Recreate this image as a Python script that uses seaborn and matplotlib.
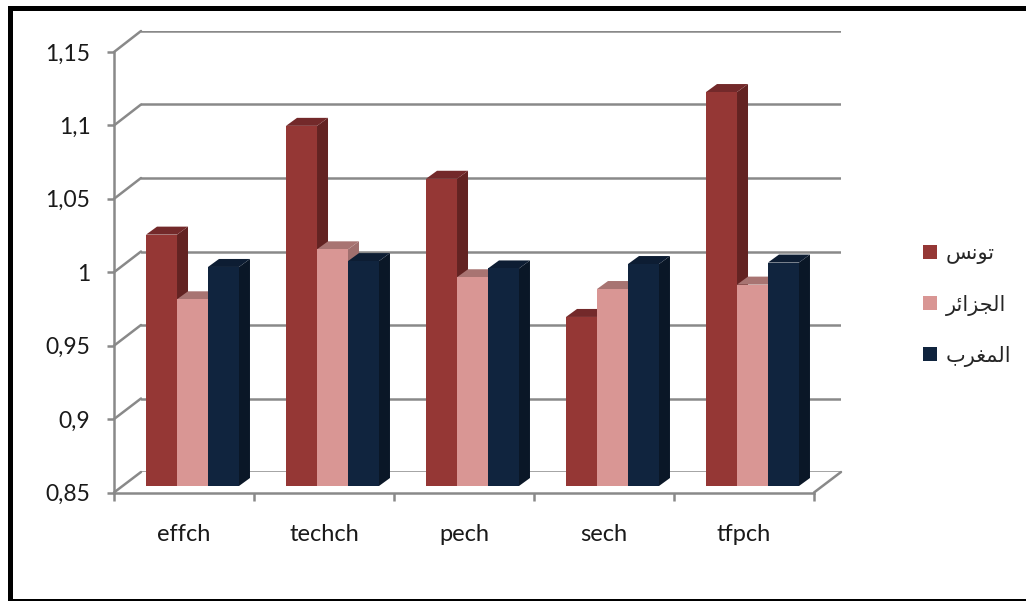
import matplotlib
matplotlib.use("Agg")
import matplotlib.pyplot as plt
from matplotlib.colors import to_hex
from matplotlib.lines import Line2D
from matplotlib.patches import Patch, Polygon, Rectangle
import pandas as pd
import seaborn as sns

# Malmquist index components per country
indices = ["effch", "techch", "pech", "sech", "tfpch"]
countries = ["تونس", "الجزائر", "المغرب"]
tunisia = [1.021, 1.095, 1.059, 0.965, 1.118]
algeria = [0.977, 1.011, 0.992, 0.984, 0.987]
morocco = [0.999, 1.003, 0.998, 1.001, 1.002]
y_ticks = [0.85, 0.9, 0.95, 1.0, 1.05, 1.1, 1.15]
y_tick_labels = ["0,85", "0,9", "0,95", "1", "1,05", "1,1", "1,15"]

# matplotlib has no Arabic shaping, so the legend text uses the joined
# presentation forms written in visual (left-to-right) order
legend_text = {
    "تونس": "\uFEB2\uFEE7\uFEEE\uFE97",
    "الجزائر": "\uFEAE\uFE8B\uFE8D\uFEB0\uFEA0\uFEDF\uFE8D",
    "المغرب": "\uFE8F\uFEAE\uFED0\uFEE4\uFEDF\uFE8D",
}

front_colors = {"تونس": "#953735", "الجزائر": "#D99694", "المغرب": "#10243E"}
side_colors = {"تونس": "#632322", "الجزائر": "#A06F6E", "المغرب": "#0A1727"}
top_colors = {"تونس": "#73292A", "الجزائر": "#A87472", "المغرب": "#0D1D33"}
GRID = "#898989"

df = pd.DataFrame({
    "index": indices * 3,
    "country": [c for c in countries for _ in indices],
    "value": tunisia + algeria + morocco,
})

sns.set_theme(style="white")
plt.rcParams["font.family"] = ["Lato", "DejaVu Sans"]

W, H = 1026, 601
fig = plt.figure(figsize=(W / 100, H / 100), dpi=100)
fig.patch.set_facecolor("white")


def px_rect(left, top, right, bottom):
    return [left / W, 1 - bottom / H, (right - left) / W, (bottom - top) / H]


ylim = (y_ticks[0], y_ticks[-1])
xlim = (-0.5, len(indices) - 0.5)

# back wall, bar plane and front frame of the pseudo-3D chart
ax_back = fig.add_axes(px_rect(141, 31, 841, 472))
ax = fig.add_axes(px_rect(122.5, 45, 822.5, 486))
ax_front = fig.add_axes(px_rect(114, 52, 814, 492.5))

for a in (ax_back, ax, ax_front):
    a.set_xlim(*xlim)
    a.set_ylim(*ylim)
    a.set_facecolor("none")
    for s in a.spines.values():
        s.set_visible(False)

ax_back.set_zorder(0)
ax.set_zorder(1)
ax_front.set_zorder(2)

# back wall gridlines
ax_back.set_yticks(y_ticks)
ax_back.set_xticks([])
ax_back.tick_params(axis="y", length=0, labelleft=False)
ax_back.grid(axis="y", color=GRID, lw=1.8)
ax_back.set_axisbelow(True)

# bars
sns.barplot(data=df, x="index", y="value", hue="country", order=indices,
            hue_order=countries, palette=front_colors, width=0.664,
            saturation=1, errorbar=None, legend=False, ax=ax, linewidth=0)
ax.set_xlim(*xlim)
ax.set_ylim(*ylim)
ax.set_xticks([])
ax.set_yticks([])
ax.set_xlabel("")
ax.set_ylabel("")

fig.canvas.draw()
bbox = ax.get_window_extent()
dx = 11 * (xlim[1] - xlim[0]) / bbox.width
dy = 8 * (ylim[1] - ylim[0]) / bbox.height
color_to_country = {to_hex(v): k for k, v in front_colors.items()}

bars = sorted(ax.patches, key=lambda p: p.get_x())
for rank, bar in enumerate(bars):
    country = color_to_country[to_hex(bar.get_facecolor())]
    x0 = bar.get_x()
    x1 = x0 + bar.get_width()
    y1 = bar.get_y() + bar.get_height()
    y0 = ylim[0]
    side = Polygon([(x1, y0), (x1 + dx, y0 + dy), (x1 + dx, y1 + dy), (x1, y1)],
                   closed=True, fc=side_colors[country], ec="none",
                   zorder=2 + 2 * rank)
    top = Polygon([(x0, y1), (x1, y1), (x1 + dx, y1 + dy), (x0 + dx, y1 + dy)],
                  closed=True, fc=top_colors[country], ec="none",
                  zorder=2 + 2 * rank)
    ax.add_patch(side)
    ax.add_patch(top)
    bar.set_zorder(3 + 2 * rank)

# front frame: value axis and category axis
ax_front.spines["left"].set_visible(True)
ax_front.spines["bottom"].set_visible(True)
for s in ("left", "bottom"):
    ax_front.spines[s].set_color(GRID)
    ax_front.spines[s].set_linewidth(1.8)
ax_front.set_yticks(y_ticks, y_tick_labels)
ax_front.tick_params(axis="y", direction="out", length=5, width=1.8,
                     color=GRID, labelcolor="#1a1a1a", labelsize=16.5, pad=12,
                     left=True)
ax_front.set_xticks([i - 0.5 for i in range(len(indices) + 1)])
ax_front.set_xticklabels([])
ax_front.set_xticks(list(range(len(indices))), indices, minor=True)
ax_front.tick_params(axis="x", which="major", direction="out", length=6,
                     width=1.8, color=GRID, bottom=True)
ax_front.tick_params(axis="x", which="minor", length=0, labelcolor="#1a1a1a",
                     labelsize=17, pad=23, bottom=True)

# side-wall and floor edges joining the front frame to the back wall
to_fig = fig.transFigure.inverted()
edges = [(xlim[0], y) for y in y_ticks] + [(xlim[1], ylim[0])]
for pt in edges:
    p_front = to_fig.transform(ax_front.transData.transform(pt))
    p_back = to_fig.transform(ax_back.transData.transform(pt))
    fig.add_artist(Line2D([p_front[0], p_back[0]], [p_front[1], p_back[1]],
                          transform=fig.transFigure, color=GRID, lw=1.8,
                          zorder=1))

# legend
handles = [Patch(fc=front_colors[c], ec="none") for c in countries]
fig.legend(handles, [legend_text[c] for c in countries],
           loc="center left", bbox_to_anchor=(923 / W, 1 - 305 / H),
           bbox_transform=fig.transFigure, frameon=False, fontsize=15,
           handlelength=0.65, handleheight=0.65, handletextpad=0.45,
           labelspacing=1.45, borderpad=0, borderaxespad=0)

# outer frame
fig.add_artist(Rectangle((9.5 / W, 1 - 600.5 / H), (1040 - 9.5) / W,
                         (600.5 - 7.5) / H, transform=fig.transFigure,
                         fill=False, ec="black", lw=3.6, clip_on=False))

fig.savefig("out.png", dpi=100)
